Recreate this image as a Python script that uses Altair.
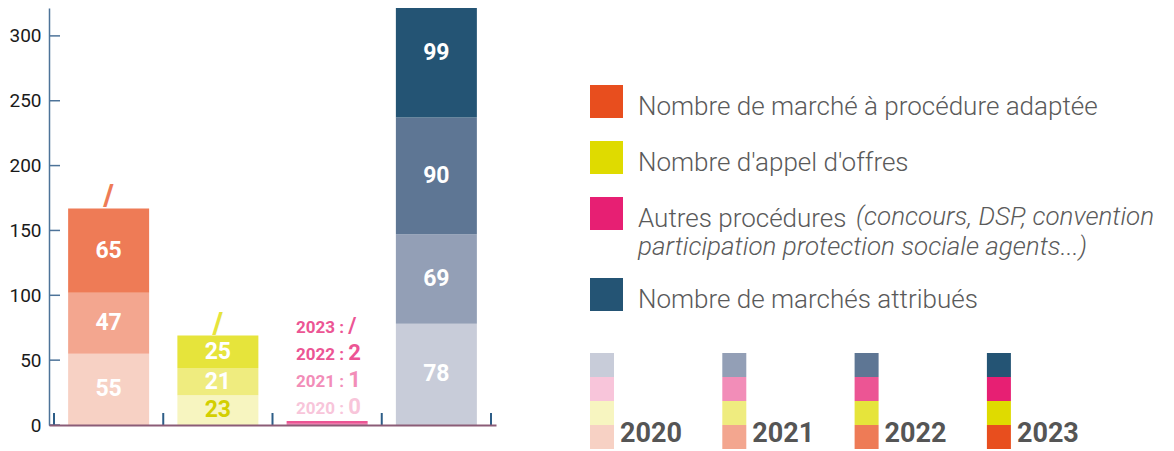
import altair as alt
import pandas as pd

# ---------------- data ----------------
years = ["2020", "2021", "2022", "2023"]
categories = [
    "Nombre de marché à procédure adaptée",
    "Nombre d'appel d'offres",
    "Autres procédures",
    "Nombre de marchés attribués",
]
cat_keys = ["mapa", "ao", "autres", "attr"]
mapa = [55, 47, 65, None]
appel_offres = [23, 21, 25, None]
autres = [0, 1, 2, None]
attribues = [78, 69, 90, 99]
autres_note = ["(concours, DSP, convention", "participation protection sociale agents...)"]
y_ticks = [0, 50, 100, 150, 200, 250, 300]

colors = {
    "mapa": ["#F7D1C4", "#F3A68F", "#EE7B56", "#E84E1E"],
    "ao": ["#F7F5C0", "#EFEC7F", "#E6E43B", "#DFDB00"],
    "autres": ["#F8C5DA", "#F28DB8", "#EC5594", "#E71F73"],
    "attr": ["#C8CCD9", "#939FB6", "#5E7694", "#245474"],
}
autres_text_colors = ["#F8C5DA", "#F28DB8", "#EC5594", "#EC5594"]

FONT = "Roboto"
series = {"mapa": mapa, "ao": appel_offres, "autres": autres, "attr": attribues}

# ---------------- main chart ----------------
rows = []
for i, k in enumerate(cat_keys):
    base = 0
    for j, yr in enumerate(years):
        v = series[k][j]
        if v is None:
            continue
        rows.append(dict(pos=i + 0.5, cat=k, year=yr, key=f"{k}-{yr}", y0=base,
                         y1=base + v, mid=base + v / 2, value=v, color=colors[k][j]))
        base += v
bars_df = pd.DataFrame(rows)

W, H = 447, 417
xs = alt.Scale(domain=[0, len(categories)], nice=False, zero=False)
ys = alt.Scale(domain=[0, 321.5], nice=False, zero=True)

base = alt.Chart(bars_df)
bars = base.mark_bar(size=81, clip=True).encode(
    x=alt.X("pos:Q", scale=xs,
            axis=alt.Axis(title=None, labels=False, ticks=False, grid=False,
                          domainColor="#8B5C77", domainWidth=2, zindex=1)),
    y=alt.Y("y0:Q", scale=ys,
            axis=alt.Axis(title=None, values=y_ticks, ticks=False, tickSize=0, grid=False,
                          labelPadding=8, labelFont=FONT, labelFontSize=19,
                          labelColor="#1A1A1A", domainColor="#4D7399", domainWidth=1.5,
                          minExtent=41, maxExtent=41)),
    y2="y1",
    color=alt.Color("color:N", scale=None),
)

labels = base.transform_filter("datum.cat != 'autres'").mark_text(
    font=FONT, fontSize=23, fontWeight="bold", baseline="middle"
).encode(
    x=alt.X("pos:Q", scale=xs),
    y=alt.Y("mid:Q", scale=ys),
    text="value:Q",
    color=alt.condition("datum.key == 'ao-2020'", alt.value("#D3CF00"), alt.value("white")),
)

slash_rows = []
for i, k in enumerate(cat_keys):
    if k == "autres" or series[k][3] is not None:
        continue
    slash_rows.append(dict(pos=i + 0.5, top=sum(v for v in series[k] if v is not None),
                           color=colors[k][2]))
slashes = alt.Chart(pd.DataFrame(slash_rows)).mark_text(
    text="/", font=FONT, fontSize=29, fontWeight=900, baseline="alphabetic", dy=-3
).encode(x=alt.X("pos:Q", scale=xs), y=alt.Y("top:Q", scale=ys),
         color=alt.Color("color:N", scale=None))

annots = []
ai = cat_keys.index("autres")
for j, yr in enumerate(years):
    v = autres[j]
    d = pd.DataFrame([dict(pos=ai + 0.5, y=0, ylab=f"{yr} :",
                           vlab="/" if v is None else str(v))])
    dy = -(11 + 27 * j)
    c = autres_text_colors[j]
    annots.append(alt.Chart(d).mark_text(
        font=FONT, fontSize=17, fontWeight="bold", align="right", baseline="alphabetic",
        dx=17, dy=dy, color=c).encode(
        x=alt.X("pos:Q", scale=xs), y=alt.Y("y:Q", scale=ys), text="ylab:N"))
    annots.append(alt.Chart(d).mark_text(
        font=FONT, fontSize=22, fontWeight="bold", align="left", baseline="alphabetic",
        dx=21, dy=dy, color=c).encode(
        x=alt.X("pos:Q", scale=xs), y=alt.Y("y:Q", scale=ys), text="vlab:N"))

yticks = alt.Chart(pd.DataFrame({"t": y_ticks})).mark_rule(
    color="#4D7399", strokeWidth=1.5).encode(
    x=alt.value(0), x2=alt.value(11), y=alt.Y("t:Q", scale=ys))
xticks = alt.Chart(pd.DataFrame({"b": list(range(len(categories) + 1))})).mark_rule(
    color="#2D5D87", strokeWidth=2).encode(
    x=alt.X("b:Q", scale=xs), y=alt.value(H - 12), y2=alt.value(H))

main = alt.layer(bars, labels, slashes, *annots, yticks, xticks).properties(width=W, height=H)

# ---------------- legends (right panel) ----------------
WR, HR = 560, 436
rxs = alt.Scale(domain=[0, WR], nice=False, zero=False)
rys = alt.Scale(domain=[0, HR], nice=False, zero=False, reverse=True)
NOAX = None

SQ = 33
leg_rows, txt_rows, note_rows = [], [], []
extra = 0
for i, k in enumerate(cat_keys):
    top = 77 + 56 * i + 25 * extra
    leg_rows.append(dict(x0=0, x1=SQ, y0=top, y1=top + SQ, color=colors[k][3]))
    txt_rows.append(dict(x=48, y=top + 30, t=categories[i]))
    if k == "autres":
        note_rows.append(dict(x=266, y=top + 28, t=autres_note[0]))
        note_rows.append(dict(x=48, y=top + 58, t=autres_note[1]))
        extra += 1

leg_sq = alt.Chart(pd.DataFrame(leg_rows)).mark_rect().encode(
    x=alt.X("x0:Q", scale=rxs, axis=NOAX), x2="x1",
    y=alt.Y("y0:Q", scale=rys, axis=NOAX), y2="y1",
    color=alt.Color("color:N", scale=None))
leg_txt = alt.Chart(pd.DataFrame(txt_rows)).mark_text(
    font=FONT, fontSize=26, fontWeight=300, color="#5A5A5A", align="left",
    baseline="alphabetic").encode(
    x=alt.X("x:Q", scale=rxs, axis=NOAX), y=alt.Y("y:Q", scale=rys, axis=NOAX), text="t:N")
leg_note = alt.Chart(pd.DataFrame(note_rows)).mark_text(
    font=FONT, fontSize=26, fontWeight=300, fontStyle="italic", color="#5A5A5A",
    align="left", baseline="alphabetic").encode(
    x=alt.X("x:Q", scale=rxs, axis=NOAX), y=alt.Y("y:Q", scale=rys, axis=NOAX), text="t:N")

CELL, PITCH = 24, 132.3
cell_rows, year_rows = [], []
stack_order = ["attr", "autres", "ao", "mapa"]  # top to bottom
for j, yr in enumerate(years):
    xl = PITCH * j
    for r, k in enumerate(stack_order):
        yt = 345 + CELL * r
        cell_rows.append(dict(x0=xl, x1=xl + CELL, y0=yt, y1=yt + CELL, color=colors[k][j]))
    year_rows.append(dict(x=xl + 30, y=434, t=yr))

cells = alt.Chart(pd.DataFrame(cell_rows)).mark_rect().encode(
    x=alt.X("x0:Q", scale=rxs, axis=NOAX), x2="x1",
    y=alt.Y("y0:Q", scale=rys, axis=NOAX), y2="y1",
    color=alt.Color("color:N", scale=None))
year_txt = alt.Chart(pd.DataFrame(year_rows)).mark_text(
    font=FONT, fontSize=27, fontWeight="bold", color="#555555", align="left",
    baseline="alphabetic").encode(
    x=alt.X("x:Q", scale=rxs, axis=NOAX), y=alt.Y("y:Q", scale=rys, axis=NOAX), text="t:N")

right = alt.layer(leg_sq, leg_txt, leg_note, cells, year_txt).properties(width=WR, height=HR)

chart = alt.hconcat(main, right, spacing=94).properties(padding=0).configure_view(stroke=None)

chart.save("out.html", embed_options={"renderer": "svg", "actions": False})
